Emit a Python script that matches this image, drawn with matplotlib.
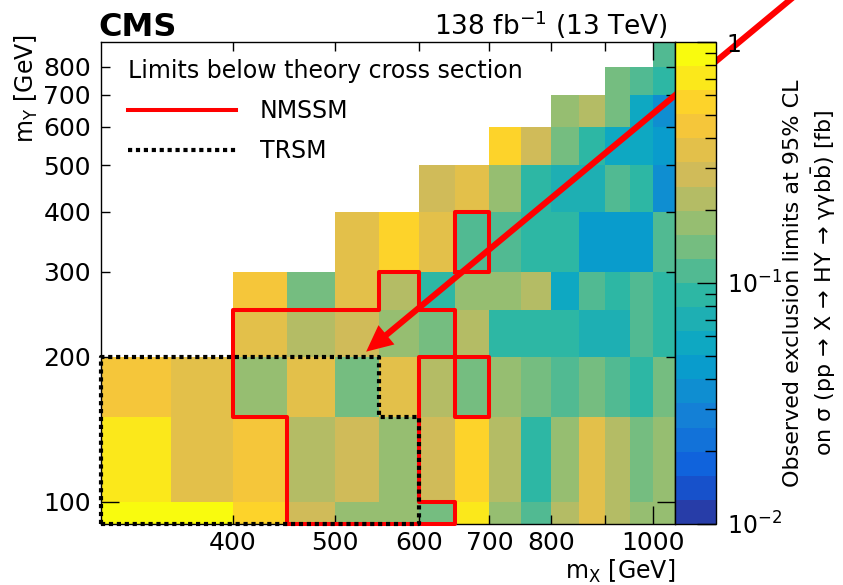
import numpy as np
import matplotlib
matplotlib.use('Agg')
import matplotlib.pyplot as plt
from matplotlib.colors import LinearSegmentedColormap, ListedColormap, LogNorm
from matplotlib.lines import Line2D
from matplotlib.ticker import LogLocator, NullFormatter

plt.rcParams['font.family'] = ['DejaVu Sans']
plt.rcParams['mathtext.fontset'] = 'dejavusans'

# bin edges in GeV
mx_edges = [300, 350, 400, 450, 500, 550, 600, 650, 700, 750, 800, 850, 900, 950, 1000, 1050]
my_edges = [90, 100, 150, 200, 250, 300, 400, 500, 600, 700, 800, 900]

nan = np.nan
# observed limits [fb], one list per mY bin (bottom to top), columns follow mx_edges
lim_my90 = [0.89, 0.89, 0.56, 0.28, 0.18, 0.18, 0.14, 0.71, 0.18, 0.11, 0.22, 0.35, 0.22, 0.18, 0.18]
lim_my100 = [0.71, 0.35, 0.45, 0.22, 0.28, 0.18, 0.28, 0.56, 0.22, 0.089, 0.18, 0.35, 0.22, 0.14, 0.18]
lim_my150 = [0.45, 0.35, 0.18, 0.35, 0.14, 0.35, 0.22, 0.14, 0.18, 0.14, 0.11, 0.14, 0.11, 0.089, 0.14]
lim_my200 = [nan, nan, 0.35, 0.22, 0.28, 0.18, 0.14, 0.22, 0.089, 0.089, 0.089, 0.071, 0.071, 0.11, 0.089]
lim_my250 = [nan, nan, 0.45, 0.14, 0.35, 0.22, 0.089, 0.18, 0.18, 0.22, 0.056, 0.11, 0.089, 0.11, 0.089]
lim_my300 = [nan, nan, nan, nan, 0.35, 0.56, 0.35, 0.11, 0.11, 0.089, 0.089, 0.045, 0.045, 0.045, 0.11]
lim_my400 = [nan, nan, nan, nan, nan, nan, 0.28, 0.35, 0.18, 0.089, 0.071, 0.071, 0.11, 0.089, 0.035]
lim_my500 = [nan, nan, nan, nan, nan, nan, nan, nan, 0.56, 0.28, 0.14, 0.089, 0.056, 0.056, 0.045]
lim_my600 = [nan, nan, nan, nan, nan, nan, nan, nan, nan, nan, 0.18, 0.22, 0.14, 0.056, 0.035]
lim_my700 = [nan, nan, nan, nan, nan, nan, nan, nan, nan, nan, nan, nan, 0.14, 0.11, 0.089]
lim_my800 = [nan, nan, nan, nan, nan, nan, nan, nan, nan, nan, nan, nan, nan, nan, 0.11]

# 1 = limit below the theory cross section
nmssm_cells = [
    [0, 0, 0, 1, 1, 1, 1, 0, 0, 0, 0, 0, 0, 0, 0],
    [0, 0, 0, 1, 1, 1, 0, 0, 0, 0, 0, 0, 0, 0, 0],
    [0, 0, 1, 1, 1, 1, 0, 1, 0, 0, 0, 0, 0, 0, 0],
    [0, 0, 1, 1, 1, 1, 1, 0, 0, 0, 0, 0, 0, 0, 0],
    [0, 0, 0, 0, 0, 1, 0, 0, 0, 0, 0, 0, 0, 0, 0],
    [0, 0, 0, 0, 0, 0, 0, 1, 0, 0, 0, 0, 0, 0, 0],
]
trsm_cells = [
    [1, 1, 1, 1, 1, 1, 0, 0, 0, 0, 0, 0, 0, 0, 0],
    [1, 1, 1, 1, 1, 1, 0, 0, 0, 0, 0, 0, 0, 0, 0],
    [1, 1, 1, 1, 1, 0, 0, 0, 0, 0, 0, 0, 0, 0, 0],
]

limits = np.ma.masked_invalid(np.array([lim_my90, lim_my100, lim_my150, lim_my200, lim_my250,
                                        lim_my300, lim_my400, lim_my500, lim_my600, lim_my700,
                                        lim_my800]))

# ROOT kBird palette, 20 contour levels
stops = [0.0, 0.125, 0.25, 0.375, 0.5, 0.625, 0.75, 0.875, 1.0]
red = [0.2082, 0.0592, 0.0780, 0.0232, 0.1802, 0.5301, 0.8186, 0.9956, 0.9764]
green = [0.1664, 0.3599, 0.5041, 0.6419, 0.7178, 0.7492, 0.7328, 0.7862, 0.9832]
blue = [0.5293, 0.8684, 0.8385, 0.7914, 0.6425, 0.4662, 0.3499, 0.1968, 0.0539]
bird = LinearSegmentedColormap.from_list('bird', list(zip(stops, zip(red, green, blue))))
cmap = ListedColormap([bird((i + 0.99) / 20) for i in range(20)])


def outline(cells):
    m = np.zeros((len(my_edges) + 1, len(mx_edges) + 1), dtype=int)
    m[1:len(cells) + 1, 1:len(cells[0]) + 1] = cells
    segs = []
    for j in range(len(my_edges)):
        for i in range(len(mx_edges) - 1):
            if m[j, i + 1] != m[j + 1, i + 1]:
                segs.append(((i, j), (i + 1, j)))
    for j in range(len(my_edges) - 1):
        for i in range(len(mx_edges)):
            if m[j + 1, i] != m[j + 1, i + 1]:
                segs.append(((i, j), (i, j + 1)))
    paths = []
    while segs:
        a, b = segs.pop(0)
        path = [a, b]
        grown = True
        while grown:
            grown = False
            for k, (p, q) in enumerate(segs):
                if p == path[-1]:
                    path.append(q)
                elif q == path[-1]:
                    path.append(p)
                else:
                    continue
                segs.pop(k)
                grown = True
                break
        paths.append(([mx_edges[i] for i, j in path], [my_edges[j] for i, j in path]))
    return paths


fig = plt.figure(figsize=(8.43, 5.85), dpi=100)
ax = fig.add_axes([0.1195, 0.1043, 0.6818, 0.8239])
cax = fig.add_axes([0.8013, 0.1043, 0.0475, 0.8239])

mesh = ax.pcolormesh(mx_edges, my_edges, limits, cmap=cmap, norm=LogNorm(0.01, 1))

for xs, ys in outline(nmssm_cells):
    ax.plot(xs, ys, color='red', lw=2.9, solid_capstyle='projecting', zorder=3, clip_on=False)
for xs, ys in outline(trsm_cells):
    ax.plot(xs, ys, color='black', lw=3.0, linestyle=(0, (1, 0.9)), zorder=4, clip_on=False)

ax.set_xscale('log')
ax.set_yscale('log')
ax.set_xlim(300, 1050)
ax.set_ylim(90, 900)
ax.set_xticks([1000], labels=['1000'])
ax.set_xticks([400, 500, 600, 700, 800, 900], labels=['400', '500', '600', '700', '800', ''], minor=True)
ax.set_yticks([100], labels=['100'])
ax.set_yticks([200, 300, 400, 500, 600, 700, 800],
              labels=['200', '300', '400', '500', '600', '700', '800'], minor=True)
ax.tick_params(which='both', direction='in', top=True, right=True, labelsize=18, width=1)
ax.tick_params(axis='x', which='both', pad=5)
ax.tick_params(axis='y', which='both', pad=7)
ax.tick_params(which='major', length=13)
ax.tick_params(which='minor', length=6.5)
for s in ax.spines.values():
    s.set_linewidth(1)

ax.set_xlabel(r'm$_{\mathrm{X}}$ [GeV]', fontsize=17, loc='right')
ax.xaxis.set_label_coords(1.0, -0.07)
ax.set_ylabel(r'm$_{\mathrm{Y}}$ [GeV]', fontsize=17, loc='top')
ax.yaxis.set_label_coords(-0.105, 1.017)

h_nmssm = Line2D([], [], color='red', lw=2.9)
h_trsm = Line2D([], [], color='black', lw=3.0, linestyle=(0, (1, 0.9)))
ax.legend([h_nmssm, h_trsm], ['NMSSM', 'TRSM'], title='Limits below theory cross section',
          loc='upper left', bbox_to_anchor=(0.047, 0.965), frameon=False, fontsize=17,
          title_fontsize=17, handlelength=4.6, handletextpad=1.0, labelspacing=0.68,
          alignment='left', borderpad=0, borderaxespad=0)

cb = fig.colorbar(mesh, cax=cax)
cb.outline.set_linewidth(1)
cb.set_ticks([0.01, 0.1, 1], labels=['$10^{-2}$', '$10^{-1}$', '1'])
cax.yaxis.set_minor_locator(LogLocator(subs=range(2, 10)))
cax.yaxis.set_minor_formatter(NullFormatter())
cax.tick_params(which='both', direction='in', right=True, left=False, labelsize=17, width=1, pad=8)
cax.tick_params(which='major', length=14)
cax.tick_params(which='minor', length=8)
cax.set_ylabel('Observed exclusion limits at 95% CL\n'
               r'on σ (pp → X → HY → γγb$\bar{\mathrm{b}}$) [fb]',
               fontsize=16, linespacing=1.3)
cax.yaxis.set_label_coords(2.68, 0.5)

ax.annotate('', xy=(535, 205), xycoords='data', xytext=(0.947, 1.012), textcoords='figure fraction',
            arrowprops=dict(arrowstyle='simple,head_length=0.95,head_width=0.9,tail_width=0.22',
                            color='red', lw=0, mutation_scale=20, shrinkA=0, shrinkB=0),
            annotation_clip=False, zorder=6)

fig.text(0.1165, 1 - 36 / 585, 'CMS', fontsize=23, fontweight='bold', va='baseline')
fig.text(0.792, 1 - 35 / 585, r'138 fb$^{-1}$ (13 TeV)', fontsize=19, ha='right', va='baseline')

fig.savefig('out.png', dpi=100)
